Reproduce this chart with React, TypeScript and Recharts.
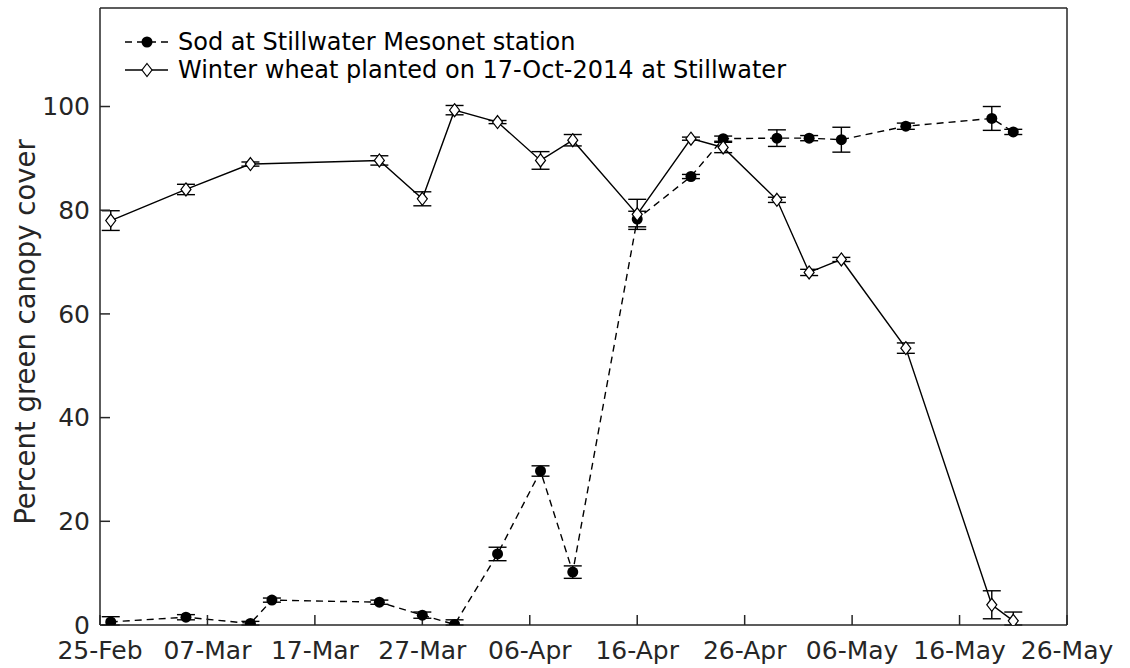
import React from 'react'
import { LineChart, Line, XAxis, YAxis, ErrorBar } from 'recharts'

const START = '2015-02-25'
const MONTHS = ['Jan', 'Feb', 'Mar', 'Apr', 'May', 'Jun', 'Jul', 'Aug', 'Sep', 'Oct', 'Nov', 'Dec']

const xTickDates = [
  '2015-02-25', '2015-03-07', '2015-03-17', '2015-03-27', '2015-04-06',
  '2015-04-16', '2015-04-26', '2015-05-06', '2015-05-16', '2015-05-26',
]
const yTicks = [0, 20, 40, 60, 80, 100]

// sod at the mesonet station
const sodDates = [
  '2015-02-26', '2015-03-05', '2015-03-11', '2015-03-13', '2015-03-23', '2015-03-27',
  '2015-03-30', '2015-04-03', '2015-04-07', '2015-04-10', '2015-04-16', '2015-04-21',
  '2015-04-24', '2015-04-29', '2015-05-02', '2015-05-05', '2015-05-11', '2015-05-19',
  '2015-05-21',
]
const sodCover = [0.6, 1.5, 0.3, 4.8, 4.4, 1.9, 0.1, 13.7, 29.7, 10.2, 78.3, 86.5, 93.8, 93.9, 93.9, 93.6, 96.2, 97.7, 95.1]
const sodError = [1.0, 0.5, 0.4, 0.4, 0.4, 0.6, 0.9, 1.3, 1.0, 1.2, 1.5, 0.4, 0.5, 1.6, 0.5, 2.4, 0.6, 2.3, 0.5]

// winter wheat
const wheatDates = [
  '2015-02-26', '2015-03-05', '2015-03-11', '2015-03-23', '2015-03-27', '2015-03-30',
  '2015-04-03', '2015-04-07', '2015-04-10', '2015-04-16', '2015-04-21', '2015-04-24',
  '2015-04-29', '2015-05-02', '2015-05-05', '2015-05-11', '2015-05-19', '2015-05-21',
]
const wheatCover = [78.0, 84.0, 88.9, 89.6, 82.2, 99.3, 97.0, 89.6, 93.5, 79.2, 93.8, 92.1, 82.0, 68.0, 70.5, 53.4, 3.9, 0.8]
const wheatError = [1.9, 1.0, 0.4, 0.9, 1.35, 0.9, 0.3, 1.7, 1.1, 2.9, 0.3, 1.0, 0.5, 0.6, 0.4, 1.0, 2.7, 1.7]

const AXIS = '#262626'
const FONT = 'DejaVu Sans'

const dayOf = (iso: string) => (Date.parse(iso) - Date.parse(START)) / 86400000

function formatTick(day: number): string {
  const d = new Date(Date.parse(START) + day * 86400000)
  return `${String(d.getUTCDate()).padStart(2, '0')}-${MONTHS[d.getUTCMonth()]}`
}

// bars stop at the x axis, like the clipped ones in the original
const toRows = (dates: string[], vals: number[], errs: number[]) =>
  dates.map((d, i) => ({
    day: dayOf(d),
    value: vals[i],
    err: [Math.min(errs[i], vals[i]), errs[i]],
  }))

const sodData = toRows(sodDates, sodCover, sodError)
const wheatData = toRows(wheatDates, wheatCover, wheatError)
const xTicks = xTickDates.map(dayOf)

function SodDot(props: any) {
  const { cx, cy } = props
  if (cx == null || cy == null) return null
  return <circle cx={cx} cy={cy} r={5.5} fill="#000" />
}

function WheatDot(props: any) {
  const { cx, cy } = props
  if (cx == null || cy == null) return null
  return (
    <path
      d={`M${cx},${cy - 6.5} L${cx + 5},${cy} L${cx},${cy + 6.5} L${cx - 5},${cy} Z`}
      fill="#fff"
      stroke="#000"
      strokeWidth={1.2}
    />
  )
}

export default function App() {
  const tickStyle = { fill: AXIS, fontSize: 25, fontFamily: FONT }
  const tickLine = { stroke: AXIS, strokeWidth: 1.5 }
  return (
    <div style={{ position: 'absolute', left: 0, top: 0, width: 1130, height: 668, background: '#fff', fontFamily: FONT }}>
      <LineChart width={1130} height={668} margin={{ top: 7, right: 62, bottom: 0, left: 0 }}>
        <XAxis
          dataKey="day"
          type="number"
          domain={[0, 90]}
          ticks={xTicks}
          interval={0}
          tickFormatter={formatTick}
          height={43}
          tickSize={-10}
          tickMargin={26}
          stroke={AXIS}
          strokeWidth={1.5}
          tickLine={tickLine}
          tick={tickStyle}
        />
        <XAxis
          xAxisId="top"
          orientation="top"
          type="number"
          domain={[0, 90]}
          allowDataOverflow
          ticks={xTicks}
          interval={0}
          height={1}
          tickSize={-10}
          tick={false}
          stroke={AXIS}
          strokeWidth={1.5}
          tickLine={tickLine}
        />
        <YAxis
          type="number"
          domain={[0, 119]}
          allowDataOverflow
          ticks={yTicks}
          interval={0}
          width={100}
          tickSize={-10}
          tickMargin={20}
          stroke={AXIS}
          strokeWidth={1.5}
          tickLine={tickLine}
          tick={tickStyle}
        />
        <YAxis
          yAxisId="right"
          orientation="right"
          type="number"
          domain={[0, 119]}
          allowDataOverflow
          ticks={yTicks}
          interval={0}
          width={1}
          tickSize={-10}
          tick={false}
          stroke={AXIS}
          strokeWidth={1.5}
          tickLine={tickLine}
        />
        <Line
          data={sodData}
          dataKey="value"
          type="linear"
          stroke="#000"
          strokeWidth={1.4}
          strokeDasharray="7 5"
          dot={<SodDot />}
          activeDot={false}
          isAnimationActive={false}
        >
          <ErrorBar dataKey="err" direction="y" width={9} stroke="#000" strokeWidth={1.4} />
        </Line>
        <Line
          data={wheatData}
          dataKey="value"
          type="linear"
          stroke="#000"
          strokeWidth={1.4}
          dot={<WheatDot />}
          activeDot={false}
          isAnimationActive={false}
        >
          <ErrorBar dataKey="err" direction="y" width={9} stroke="#000" strokeWidth={1.4} />
        </Line>
      </LineChart>
      <svg width={1130} height={668} style={{ position: 'absolute', left: 0, top: 0, pointerEvents: 'none' }}>
        <text
          transform="translate(25,332) rotate(-90)"
          textAnchor="middle"
          dominantBaseline="central"
          fontSize={27.5}
          fill={AXIS}
          fontFamily={FONT}
        >
          Percent green canopy cover
        </text>
        <line x1={125} y1={42} x2={168} y2={42} stroke="#000" strokeWidth={1.4} strokeDasharray="7 5" />
        <circle cx={147} cy={42} r={5.5} fill="#000" />
        <text x={178} y={42} dominantBaseline="central" fontSize={24} fill="#000" fontFamily={FONT}>
          Sod at Stillwater Mesonet station
        </text>
        <line x1={125} y1={70} x2={168} y2={70} stroke="#000" strokeWidth={1.4} />
        <path d="M147,63.5 L152,70 L147,76.5 L142,70 Z" fill="#fff" stroke="#000" strokeWidth={1.2} />
        <text x={178} y={70} dominantBaseline="central" fontSize={24} fill="#000" fontFamily={FONT}>
          Winter wheat planted on 17-Oct-2014 at Stillwater
        </text>
      </svg>
    </div>
  )
}
